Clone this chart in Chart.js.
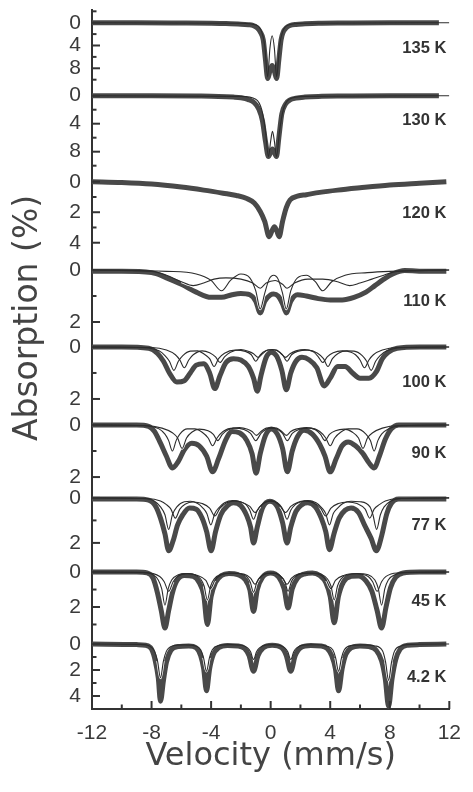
<!DOCTYPE html>
<html>
<head>
<meta charset="utf-8">
<script src="https://cdn.jsdelivr.net/npm/chart.js@4.4.1/dist/chart.umd.min.js"></script>
<style>
  html, body { margin: 0; padding: 0; background: #fff; }
  #wrap { width: 473px; height: 792px; position: relative; }
</style>
</head>
<body>
<div id="wrap"><canvas id="myChart"></canvas></div>
<script>
// panels, top to bottom
const temps = ['135 K', '130 K', '120 K', '110 K', '100 K', '90 K', '77 K', '45 K', '4.2 K'];

// measured spectra: [velocity (mm/s), absorption (%)]
const s135 = [[-12,0],[-9,0],[-6,0.05],[-4,0.1],[-3,0.15],[-2,0.25],[-1.5,0.35],[-1.2,0.45],[-0.9,0.9],[-0.7,1.6],[-0.5,3.0],[-0.35,6.5],[-0.2,9.8],[-0.05,8.5],[0.1,7.5],[0.25,8.5],[0.4,9.8],[0.55,6.5],[0.7,3.0],[0.85,1.6],[1.05,0.9],[1.3,0.5],[1.7,0.3],[2.3,0.2],[3.2,0.1],[5,0.05],[8,0],[11.3,0]];
const s130 = [[-12,0],[-8,0],[-5,0.05],[-3.5,0.1],[-2.5,0.2],[-2,0.3],[-1.5,0.55],[-1.1,1.0],[-0.8,1.9],[-0.55,3.6],[-0.35,6.5],[-0.15,8.7],[0.12,7.6],[0.39,8.7],[0.55,6.0],[0.75,2.6],[1.0,1.2],[1.3,0.6],[1.7,0.35],[2.3,0.2],[3.2,0.1],[5,0.05],[8,0],[11.3,0]];
const s120 = [[-12,0],[-10,0.05],[-8,0.15],[-6,0.35],[-4.5,0.55],[-3.2,0.75],[-2.3,0.9],[-1.6,1.1],[-1.1,1.4],[-0.7,1.95],[-0.4,2.6],[-0.1,3.6],[0.1,3.2],[0.25,2.95],[0.4,3.2],[0.57,3.6],[0.8,2.6],[1.05,1.7],[1.3,1.2],[1.8,0.95],[2.4,0.85],[3.3,0.7],[4.5,0.55],[6,0.4],[8,0.22],[10,0.1],[11.8,0]];
const s110 = [[-12,0.05],[-10,0.05],[-8,0.1],[-7,0.3],[-6,0.55],[-5,0.85],[-4,1.05],[-3.3,1.05],[-2.6,0.95],[-2,0.9],[-1.4,0.95],[-1.0,1.2],[-0.7,1.65],[-0.4,1.2],[0,0.95],[0.2,0.92],[0.5,1.0],[0.8,1.3],[1.05,1.65],[1.35,1.2],[1.8,0.95],[2.4,1.0],[3.2,1.1],[4.0,1.15],[4.8,1.15],[5.6,1.05],[6.4,0.85],[7.0,0.6],[7.6,0.35],[8.2,0.15],[9,0.02],[10.5,0.05],[11.8,0.05]];
const s100 = [[-12,0],[-10,0],[-8.2,0.05],[-7.6,0.25],[-7.2,0.55],[-6.8,1.0],[-6.3,1.35],[-5.8,1.3],[-5.4,1.0],[-5.0,0.7],[-4.5,0.65],[-4.1,1.0],[-3.75,1.6],[-3.4,1.1],[-3.0,0.6],[-2.5,0.45],[-2.0,0.5],[-1.5,0.75],[-1.15,1.2],[-0.9,1.7],[-0.65,1.1],[-0.3,0.4],[0.05,0.2],[0.4,0.35],[0.75,0.9],[1.05,1.65],[1.35,1.0],[1.7,0.55],[2.1,0.4],[2.6,0.5],[3.1,0.8],[3.6,1.5],[4.0,1.2],[4.5,0.75],[5.0,0.75],[5.5,1.0],[6.0,1.2],[6.6,1.2],[7.1,0.95],[7.5,0.45],[7.9,0.2],[8.5,0.05],[10,0],[11.8,0]];
const s90 = [[-12,0],[-9,0],[-8.2,0.05],[-7.8,0.25],[-7.4,0.7],[-7.0,1.2],[-6.6,1.65],[-6.2,1.4],[-5.8,0.95],[-5.3,0.7],[-4.8,0.8],[-4.3,1.2],[-3.9,1.8],[-3.5,1.3],[-3.0,0.55],[-2.6,0.25],[-2.1,0.3],[-1.6,0.6],[-1.25,1.1],[-0.98,1.85],[-0.7,1.1],[-0.35,0.4],[0.05,0.15],[0.45,0.35],[0.8,0.9],[1.12,1.8],[1.45,1.0],[1.8,0.45],[2.25,0.2],[2.8,0.35],[3.3,0.75],[3.65,1.2],[4.0,1.8],[4.4,1.3],[4.8,0.8],[5.2,0.65],[5.7,0.8],[6.2,1.1],[6.6,1.45],[6.95,1.65],[7.3,1.2],[7.7,0.55],[8.1,0.15],[8.6,0],[10,0],[11.8,0]];
const s77 = [[-12,0.05],[-9,0.05],[-8.2,0.1],[-7.7,0.4],[-7.4,0.9],[-7.1,1.6],[-6.85,2.35],[-6.55,1.9],[-6.25,1.2],[-5.9,0.75],[-5.45,0.45],[-5.0,0.5],[-4.6,0.9],[-4.3,1.5],[-4.0,2.35],[-3.7,1.5],[-3.35,0.75],[-2.9,0.35],[-2.5,0.22],[-2.0,0.35],[-1.6,0.8],[-1.35,1.3],[-1.15,2.0],[-0.9,1.3],[-0.55,0.45],[-0.05,0.15],[0.45,0.4],[0.8,1.1],[1.1,2.0],[1.35,1.3],[1.7,0.6],[2.1,0.3],[2.5,0.22],[3.0,0.4],[3.4,0.9],[3.7,1.5],[3.95,2.3],[4.25,1.6],[4.6,0.9],[5.0,0.55],[5.4,0.45],[5.9,0.65],[6.3,1.2],[6.75,1.8],[7.1,2.35],[7.45,1.7],[7.8,0.7],[8.1,0.25],[8.6,0.05],[10,0.05],[11.8,0.05]];
const s45 = [[-12,0],[-9,0],[-8.3,0.05],[-7.9,0.35],[-7.6,1.2],[-7.35,2.2],[-7.1,3.2],[-6.85,2.2],[-6.6,1.2],[-6.3,0.5],[-5.8,0.2],[-5.2,0.25],[-4.8,0.6],[-4.5,1.3],[-4.25,3.0],[-4.0,1.4],[-3.7,0.6],[-3.3,0.2],[-2.8,0.08],[-2.2,0.15],[-1.7,0.45],[-1.4,1.0],[-1.15,2.25],[-0.9,1.0],[-0.55,0.3],[0,0.05],[0.55,0.3],[0.9,0.95],[1.17,2.05],[1.45,0.95],[1.8,0.35],[2.3,0.1],[2.8,0.05],[3.3,0.2],[3.7,0.6],[4.0,1.4],[4.27,2.9],[4.55,1.4],[4.9,0.55],[5.4,0.25],[5.9,0.22],[6.4,0.5],[6.8,1.1],[7.15,2.2],[7.45,3.2],[7.75,2.0],[8.05,0.9],[8.4,0.3],[8.9,0.05],[10,0],[11.8,0]];
const s4 = [[-12,0],[-9,0.05],[-8.4,0.1],[-8.0,0.4],[-7.75,1.3],[-7.55,2.6],[-7.4,4.4],[-7.2,2.8],[-7.0,1.4],[-6.7,0.5],[-6.2,0.2],[-5.5,0.15],[-5.0,0.3],[-4.7,0.9],[-4.5,1.9],[-4.31,3.6],[-4.1,1.9],[-3.85,0.8],[-3.5,0.3],[-2.9,0.12],[-2.2,0.15],[-1.75,0.35],[-1.45,0.9],[-1.15,2.1],[-0.85,0.9],[-0.5,0.3],[0.1,0.1],[0.75,0.3],[1.05,0.9],[1.35,2.1],[1.65,0.9],[2.0,0.3],[2.7,0.12],[3.4,0.15],[3.8,0.35],[4.1,0.9],[4.35,1.9],[4.56,3.6],[4.8,1.9],[5.05,0.8],[5.4,0.3],[6.0,0.15],[6.6,0.2],[7.1,0.5],[7.45,1.3],[7.7,2.7],[7.92,4.8],[8.15,2.7],[8.4,1.2],[8.7,0.4],[9.2,0.1],[10,0.05],[11.8,0]];

// fitted sub-spectra (thin lines)
const c135 = [[-12,0],[-2,0.1],[-1,0.4],[-0.6,1.6],[-0.4,4],[-0.2,9.5],[-0.05,4.5],[0.1,2.3],[0.25,4.5],[0.4,9.5],[0.6,4],[0.8,1.6],[1.2,0.4],[2.2,0.1],[12,0]];
const c130 = [[-12,0],[-2,0.1],[-1,0.5],[-0.6,2],[-0.35,5],[-0.15,8.7],[0,6.5],[0.12,5.1],[0.25,6.5],[0.39,8.7],[0.6,5],[0.85,2],[1.25,0.5],[2.3,0.1],[12,0]];
const c110a = [[-12,0],[-7,0.05],[-5,0.15],[-4.0,0.4],[-3.3,0.8],[-2.7,0.4],[-2.0,0.15],[-1.4,0.3],[-1.0,0.8],[-0.7,1.5],[-0.4,0.9],[-0.1,0.35],[0.2,0.2],[0.5,0.35],[0.8,0.9],[1.05,1.5],[1.35,0.8],[1.8,0.3],[2.4,0.2],[3.0,0.45],[3.5,0.8],[4.1,0.45],[5,0.2],[6.5,0.1],[8,0.05],[12,0]];
const c110b = [[-12,0],[-8,0.05],[-7,0.2],[-6,0.45],[-5.2,0.6],[-4.5,0.5],[-3.8,0.35],[-3,0.3],[-2,0.35],[-1.2,0.5],[-0.7,0.7],[-0.3,0.5],[0.3,0.4],[0.8,0.55],[1.1,0.7],[1.6,0.5],[2.5,0.35],[3.5,0.35],[4.5,0.45],[5.3,0.6],[6,0.5],[6.8,0.35],[7.6,0.2],[8.5,0.05],[12,0]];
const c100a = [[-12,0],[-8.5,0.03],[-7.5,0.15],[-7.1,0.33],[-6.8,0.55],[-6.5,0.9],[-6.2,0.55],[-5.9,0.33],[-5.4,0.16],[-4.9,0.15],[-4.45,0.28],[-4.1,0.45],[-3.8,0.75],[-3.5,0.45],[-3.1,0.24],[-2.4,0.12],[-1.7,0.17],[-1.3,0.3],[-1.0,0.55],[-0.7,0.3],[-0.3,0.14],[0.05,0.11],[0.4,0.14],[0.8,0.3],[1.1,0.55],[1.4,0.3],[1.8,0.17],[2.5,0.12],[3.15,0.24],[3.55,0.45],[3.85,0.75],[4.15,0.45],[4.55,0.24],[5.1,0.15],[5.6,0.16],[6.15,0.33],[6.45,0.55],[6.75,0.9],[7.05,0.55],[7.35,0.33],[7.8,0.15],[8.8,0.03],[12,0]];
const c100b = [[-12,0],[-8,0.02],[-7,0.12],[-6.4,0.3],[-6.1,0.5],[-5.8,0.8],[-5.5,0.5],[-5.2,0.3],[-4.6,0.15],[-4.1,0.22],[-3.7,0.38],[-3.4,0.6],[-3.1,0.38],[-2.7,0.2],[-2.0,0.1],[-1.45,0.18],[-1.15,0.26],[-0.85,0.4],[-0.55,0.26],[-0.2,0.12],[0.1,0.1],[0.4,0.12],[0.7,0.26],[1.0,0.4],[1.3,0.26],[1.7,0.15],[2.3,0.1],[2.9,0.2],[3.2,0.38],[3.5,0.6],[3.8,0.38],[4.2,0.22],[4.8,0.15],[5.4,0.2],[5.7,0.3],[6.0,0.5],[6.3,0.8],[6.6,0.5],[6.9,0.3],[7.5,0.12],[8.5,0.02],[12,0]];
const c90a = [[-12,0],[-8.5,0.03],[-7.5,0.15],[-7.1,0.35],[-6.85,0.6],[-6.6,1.0],[-6.35,0.6],[-6.1,0.35],[-5.6,0.15],[-5.1,0.15],[-4.6,0.28],[-4.2,0.5],[-3.9,0.8],[-3.6,0.5],[-3.2,0.25],[-2.5,0.12],[-1.8,0.17],[-1.35,0.32],[-1.0,0.6],[-0.65,0.32],[-0.3,0.16],[0.05,0.12],[0.45,0.16],[0.8,0.32],[1.12,0.6],[1.45,0.32],[1.9,0.17],[2.6,0.12],[3.3,0.25],[3.7,0.5],[4.0,0.8],[4.3,0.5],[4.7,0.28],[5.2,0.15],[5.8,0.15],[6.4,0.35],[6.7,0.6],[6.95,1.0],[7.2,0.6],[7.45,0.35],[7.9,0.15],[8.8,0.03],[12,0]];
const c90b = [[-12,0],[-8.5,0.02],[-7.3,0.12],[-6.6,0.3],[-6.25,0.5],[-5.95,0.9],[-5.65,0.5],[-5.3,0.28],[-4.8,0.16],[-4.2,0.22],[-3.85,0.36],[-3.55,0.6],[-3.25,0.36],[-2.85,0.18],[-2.1,0.1],[-1.55,0.16],[-1.25,0.25],[-0.95,0.4],[-0.65,0.25],[-0.3,0.12],[0.05,0.1],[0.4,0.12],[0.75,0.25],[1.05,0.4],[1.35,0.25],[1.7,0.16],[2.4,0.1],[3.0,0.18],[3.35,0.36],[3.65,0.6],[3.95,0.36],[4.35,0.22],[4.95,0.16],[5.5,0.28],[5.9,0.5],[6.2,0.9],[6.5,0.5],[6.85,0.3],[7.5,0.12],[8.6,0.02],[12,0]];
const c77a = [[-12,0],[-8.6,0.03],[-7.8,0.15],[-7.4,0.4],[-7.1,0.75],[-6.85,1.4],[-6.6,0.75],[-6.3,0.4],[-5.8,0.17],[-5.4,0.15],[-4.9,0.25],[-4.55,0.45],[-4.28,0.7],[-4.02,1.2],[-3.76,0.7],[-3.5,0.45],[-3.1,0.22],[-2.55,0.12],[-2.0,0.18],[-1.65,0.3],[-1.4,0.55],[-1.15,0.95],[-0.9,0.55],[-0.6,0.3],[-0.25,0.15],[0,0.12],[0.25,0.15],[0.6,0.3],[0.85,0.55],[1.1,0.95],[1.35,0.55],[1.65,0.3],[2.0,0.18],[2.5,0.12],[3.05,0.22],[3.45,0.45],[3.7,0.7],[3.95,1.2],[4.2,0.7],[4.5,0.45],[4.85,0.25],[5.4,0.15],[6.0,0.17],[6.67,0.4],[6.87,0.75],[7.12,1.4],[7.37,0.75],[7.62,0.4],[8.05,0.15],[8.8,0.03],[12,0]];
const c77b = [[-12,0],[-8.3,0.03],[-7.4,0.14],[-7.0,0.3],[-6.7,0.5],[-6.4,0.9],[-6.1,0.5],[-5.75,0.28],[-5.2,0.18],[-4.6,0.25],[-4.1,0.45],[-3.75,0.8],[-3.4,0.45],[-2.95,0.22],[-2.4,0.14],[-1.9,0.2],[-1.4,0.38],[-1.05,0.65],[-0.7,0.38],[-0.3,0.18],[0,0.15],[0.3,0.18],[0.65,0.38],[1.0,0.65],[1.35,0.38],[1.8,0.2],[2.3,0.14],[2.85,0.22],[3.35,0.45],[3.7,0.8],[4.05,0.45],[4.55,0.25],[5.15,0.18],[5.8,0.25],[6.35,0.5],[6.65,0.9],[6.95,0.5],[7.3,0.3],[7.7,0.14],[8.6,0.03],[12,0]];
const c45a = [[-12,0],[-8.6,0.02],[-7.9,0.15],[-7.55,0.45],[-7.32,0.95],[-7.1,1.9],[-6.88,0.95],[-6.65,0.45],[-6.2,0.15],[-5.7,0.08],[-5.1,0.15],[-4.7,0.4],[-4.47,0.8],[-4.25,1.6],[-4.03,0.8],[-3.8,0.4],[-3.3,0.12],[-2.6,0.05],[-2.0,0.1],[-1.6,0.28],[-1.37,0.58],[-1.15,1.15],[-0.93,0.58],[-0.7,0.28],[-0.2,0.06],[0.3,0.06],[0.72,0.28],[0.95,0.55],[1.17,1.1],[1.39,0.55],[1.62,0.28],[2.2,0.06],[2.9,0.05],[3.4,0.12],[3.82,0.4],[4.05,0.8],[4.27,1.6],[4.49,0.8],[4.72,0.4],[5.2,0.15],[5.8,0.08],[6.55,0.15],[7.0,0.45],[7.23,0.95],[7.45,1.9],[7.67,0.95],[7.9,0.45],[8.35,0.15],[9.0,0.02],[12,0]];
const c45b = [[-12,0],[-8.6,0.03],[-7.45,0.25],[-7.15,0.55],[-6.85,1.1],[-6.55,0.55],[-6.25,0.25],[-5.6,0.1],[-4.95,0.18],[-4.35,0.48],[-4.05,0.95],[-3.75,0.48],[-3.4,0.2],[-2.6,0.07],[-1.8,0.12],[-1.35,0.35],[-1.05,0.7],[-0.75,0.35],[-0.3,0.1],[0.05,0.07],[0.4,0.1],[0.8,0.35],[1.1,0.7],[1.4,0.35],[1.85,0.12],[2.6,0.07],[3.4,0.2],[3.75,0.48],[4.05,0.95],[4.35,0.48],[4.95,0.18],[5.7,0.1],[6.55,0.25],[6.85,0.55],[7.15,1.1],[7.45,0.55],[7.75,0.25],[8.5,0.05],[12,0]];
const c4a = [[-12,0],[-8.8,0.03],[-8.1,0.18],[-7.8,0.55],[-7.6,1.3],[-7.4,2.6],[-7.2,1.3],[-7.0,0.55],[-6.6,0.15],[-5.8,0.07],[-5.0,0.17],[-4.7,0.45],[-4.51,1.05],[-4.31,2.1],[-4.11,1.05],[-3.92,0.45],[-3.5,0.12],[-2.7,0.05],[-1.95,0.1],[-1.55,0.3],[-1.35,0.6],[-1.15,1.2],[-0.95,0.6],[-0.75,0.3],[-0.3,0.07],[0.2,0.05],[0.95,0.3],[1.15,0.6],[1.35,1.2],[1.55,0.6],[1.75,0.3],[2.3,0.07],[3.1,0.06],[3.75,0.17],[4.17,0.45],[4.36,1.05],[4.56,2.1],[4.76,1.05],[4.95,0.45],[5.4,0.12],[6.2,0.07],[7.0,0.15],[7.52,0.55],[7.72,1.4],[7.92,2.8],[8.12,1.4],[8.32,0.55],[8.75,0.15],[9.5,0.03],[12,0]];

const spectra = [s135, s130, s120, s110, s100, s90, s77, s45, s4];
const fits = [[c135], [c130], [], [c110a, c110b], [c100a, c100b], [c90a, c90b], [c77a, c77b], [c45a, c45b], [c4a]];

// y range of each panel (%), its tick marks and labelled ticks
const yMin = [-2.23, -1.1, -0.9, -0.54, -0.46, -0.46, -0.44, -0.69, -0.92];
const yMax = [11.46, 10.33, 4.87, 2.5, 2.54, 2.42, 2.76, 3.43, 5.0];
const yTicks = [[-2,0,2,4,6,8,10], [0,2,4,6,8,10], [0,1,2,3,4], [0,1,2], [0,1,2], [0,1,2], [0,1,2], [0,1,2,3], [0,1,2,3,4]];
const yLabels = [[0,4,8], [0,4,8], [0,2,4], [0,2], [0,2], [0,2], [0,2], [0,2], [0,2,4]];
const xTicks = [-12,-10,-8,-6,-4,-2,0,2,4,6,8,10,12];
const xLabels = [-12,-8,-4,0,4,8,12];
// where the temperature tag sits inside each panel (%)
const tagY = [4.6, 3.5, 2.05, 1.19, 1.35, 1.08, 1.24, 1.71, 2.6];

const panelWeight = [78, 80, 88, 79, 78, 75, 72, 72, 77];
const haloPanels = [3, 4, 5, 6, 7, 8];   // panels whose sub-spectra show a light gap inside the dips
const ink = '#3a3a3a';

Chart.defaults.font.family = '"Liberation Sans", Arial, sans-serif';

const toXY = arr => arr.map(([x, y]) => ({x: x, y: y}));
const curve = { pointRadius: 0, tension: 0.4, cubicInterpolationMode: 'monotone' };

const datasets = [];
spectra.forEach((s, i) => {
  datasets.push(Object.assign({
    data: toXY(s), yAxisID: 'y' + i, order: 3,
    borderColor: '#494949', borderWidth: 5
  }, curve));
  fits[i].forEach(f => {
    const depth = Math.max(...f.map(p => p[1]));
    if (haloPanels.includes(i)) {
      datasets.push(Object.assign({
        data: toXY(f), yAxisID: 'y' + i, order: 2,
        borderColor: '#ffffff', borderWidth: 2.6,
        segment: {
          borderColor: c => Math.min(c.p0.parsed.y, c.p1.parsed.y) > 0.3 * depth ? '#ffffff' : 'rgba(0,0,0,0)'
        }
      }, curve));
    }
    datasets.push(Object.assign({
      data: toXY(f), yAxisID: 'y' + i, order: 1,
      borderColor: '#2c2c2c', borderWidth: 1.1
    }, curve));
  });
});

const scales = {
  x: {
    type: 'linear', position: 'bottom', min: -12, max: 12,
    grid: { drawOnChartArea: false, drawTicks: false },
    border: { color: '#333', width: 2 },
    afterBuildTicks: s => { s.ticks = xTicks.map(v => ({value: v})); },
    afterFit: s => { s.height = 83; },
    ticks: {
      autoSkip: false, maxRotation: 0, padding: 12, color: ink,
      font: { size: 21 },
      callback: v => xLabels.includes(v) ? String(v) : null
    },
    title: {
      display: true, text: 'Velocity (mm/s)', color: '#444',
      font: { family: '"DejaVu Sans", sans-serif', size: 32 },
      padding: { top: 0, bottom: 16 }
    }
  }
};
// stacked left axes are laid out bottom-up, so register the lowest panel first
for (let i = temps.length - 1; i >= 0; i--) {
  scales['y' + i] = {
    type: 'linear', axis: 'y', position: 'left', stack: 'abs', stackWeight: panelWeight[i],
    reverse: true, min: yMin[i], max: yMax[i], offset: false,
    grid: { drawOnChartArea: false, drawTicks: false },
    border: { color: '#333', width: 2 },
    afterBuildTicks: s => { s.ticks = yTicks[i].map(v => ({value: v})); },
    afterFit: s => { s.width = 92; s.paddingTop = 0; s.paddingBottom = 0; },
    ticks: {
      autoSkip: false, padding: 11, color: ink,
      font: { size: 21 },
      callback: v => yLabels[i].includes(v) ? String(v) : null
    }
  };
}

// inward tick marks, temperature tags and the y title
const decor = {
  id: 'decor',
  afterDraw(chart) {
    const ctx = chart.ctx;
    const xs = chart.scales.x;
    ctx.save();
    ctx.strokeStyle = '#333';
    ctx.lineWidth = 2;
    temps.forEach((t, i) => {
      const s = chart.scales['y' + i];
      yTicks[i].forEach(v => {
        const y = s.getPixelForValue(v);
        const len = yLabels[i].includes(v) ? 8 : 4.5;
        ctx.beginPath(); ctx.moveTo(s.right, y); ctx.lineTo(s.right + len, y); ctx.stroke();
      });
    });
    xTicks.forEach(v => {
      const x = xs.getPixelForValue(v);
      const len = xLabels.includes(v) ? 8 : 4.5;
      ctx.beginPath(); ctx.moveTo(x, xs.top); ctx.lineTo(x, xs.top - len); ctx.stroke();
    });

    ctx.fillStyle = '#333';
    ctx.font = 'bold 16.5px "Liberation Sans", Arial, sans-serif';
    ctx.textAlign = 'right';
    ctx.textBaseline = 'middle';
    temps.forEach((t, i) => {
      ctx.fillText(t, xs.getPixelForValue(11.8), chart.scales['y' + i].getPixelForValue(tagY[i]));
    });

    ctx.fillStyle = '#444';
    ctx.font = '33px "DejaVu Sans", sans-serif';
    ctx.textAlign = 'center';
    ctx.textBaseline = 'alphabetic';
    ctx.translate(37, 318);
    ctx.rotate(-Math.PI / 2);
    ctx.fillText('Absorption (%)', 0, 0);
    ctx.restore();
  }
};

const ctx = document.getElementById('myChart').getContext('2d');
const myChart = new Chart(ctx, {
  type: 'line',
  data: { datasets: datasets },
  options: {
    responsive: true,
    maintainAspectRatio: false,
    devicePixelRatio: 1,
    animation: false,
    layout: { padding: { top: 10, right: 15, left: 0, bottom: 0 } },
    plugins: { legend: { display: false }, tooltip: { enabled: false } },
    scales: scales
  },
  plugins: [decor]
});
</script>
</body>
</html>
